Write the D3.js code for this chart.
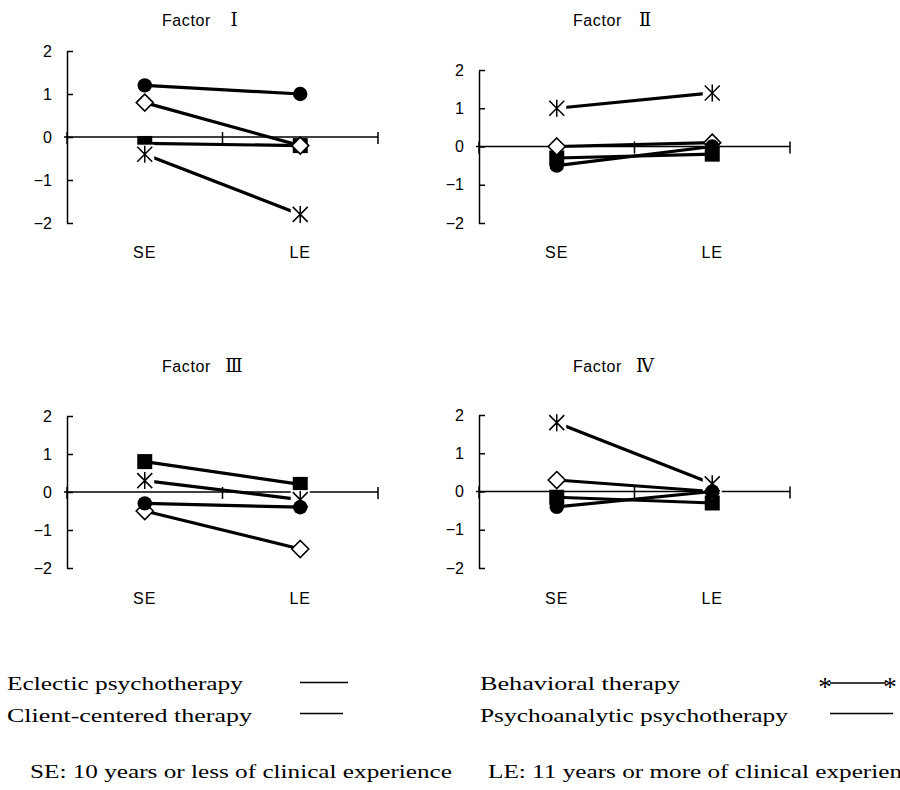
<!DOCTYPE html>
<html>
<head>
<meta charset="utf-8">
<script src="https://cdn.jsdelivr.net/npm/d3@7"></script>
<style>
  body { margin: 0; background: #fff; }
  svg { display: block; }
</style>
</head>
<body>
<svg id="chart" width="900" height="790"></svg>
<script>
// Experience groups on the x axis
const stages = ["SE", "LE"];
// Value axis ticks
const yTicks = [2, 1, 0, -1, -2];
// Factor numerals (one small chart per factor)
const factorNumerals = ["Ⅰ", "Ⅱ", "Ⅲ", "Ⅳ"];

// Mean factor scores per school, one [SE, LE] pair per factor
const eclectic       = [[0.8, -0.2], [0.0, 0.1], [-0.5, -1.5], [0.3, 0.0]];
const clientCentered = [[-0.15, -0.2], [-0.3, -0.2], [0.8, 0.2], [-0.15, -0.3]];
const behavioral     = [[-0.4, -1.8], [1.0, 1.4], [0.3, -0.2], [1.8, 0.2]];
const psychoanalytic = [[1.2, 1.0], [-0.5, 0.0], [-0.3, -0.4], [-0.4, 0.0]];

// Legend / note text
const legendLeft  = ["Eclectic psychotherapy", "Client-centered therapy"];
const legendRight = ["Behavioral therapy", "Psychoanalytic psychotherapy"];
const notes = ["SE: 10 years or less of clinical experience",
               "LE: 11 years or more of clinical experience"];

// Drawing order of the series (later ones sit on top)
const seriesList = [
  { values: clientCentered, marker: "square" },
  { values: eclectic,       marker: "diamond" },
  { values: behavioral,     marker: "asterisk" },
  { values: psychoanalytic, marker: "circle" }
];

// Panel frames
const panels = [
  { x0: 67,  x1: 378, yTop: 51,  yBot: 223, titleX: 200, titleY: 26,  catY: 258 },
  { x0: 479, x1: 790, yTop: 70,  yBot: 223, titleX: 611, titleY: 26,  catY: 258 },
  { x0: 67,  x1: 378, yTop: 416, yBot: 568, titleX: 200, titleY: 372, catY: 604 },
  { x0: 479, x1: 790, yTop: 415, yBot: 568, titleX: 611, titleY: 372, catY: 604 }
];

const SANS = "'Liberation Sans', Arial, sans-serif";
const SERIF = "'Liberation Serif', 'Times New Roman', serif";
const NUMERAL = "'DejaVu Serif', serif";

const svg = d3.select("#chart");

function drawMarker(g, type, cx, cy) {
  if (type === "square") {
    g.append("rect").attr("x", cx - 7.5).attr("y", cy - 7.5)
      .attr("width", 15).attr("height", 15).attr("fill", "#000");
  } else if (type === "circle") {
    g.append("circle").attr("cx", cx).attr("cy", cy).attr("r", 7.2).attr("fill", "#000");
  } else if (type === "diamond") {
    const h = 8.5;
    g.append("path")
      .attr("d", `M${cx},${cy - h}L${cx + h},${cy}L${cx},${cy + h}L${cx - h},${cy}Z`)
      .attr("fill", "#fff").attr("stroke", "#000").attr("stroke-width", 1.6);
  } else if (type === "asterisk") {
    const h = 9.5;
    g.append("rect").attr("x", cx - h).attr("y", cy - h)
      .attr("width", 2 * h).attr("height", 2 * h).attr("fill", "#fff");
    const a = 8.5, b = 7.5;
    g.append("path")
      .attr("d", `M${cx},${cy - a}L${cx},${cy + a}M${cx - b},${cy - b}L${cx + b},${cy + b}M${cx - b},${cy + b}L${cx + b},${cy - b}`)
      .attr("fill", "none").attr("stroke", "#000").attr("stroke-width", 1.5);
  }
}

panels.forEach((p, i) => {
  const g = svg.append("g").attr("class", "panel");
  const x = d3.scaleBand().domain(stages).range([p.x0, p.x1]);
  const y = d3.scaleLinear().domain([-2, 2]).range([p.yBot, p.yTop]);
  const cx = d => x(d) + x.bandwidth() / 2;

  // Title
  const title = g.append("text")
    .attr("x", p.titleX - 38).attr("y", p.titleY)
    .style("font-family", SANS).style("font-size", "16px").attr("fill", "#000");
  title.append("tspan").attr("letter-spacing", 0.6).text("Factor ");
  title.append("tspan").attr("x", p.titleX + 34).attr("text-anchor", "middle")
    .style("font-family", NUMERAL).style("font-size", "18px").text(factorNumerals[i]);

  // Value axis (ticks point into the plot)
  const yAxis = d3.axisLeft(y).tickValues(yTicks).tickFormat(d3.format("d"))
    .tickSizeInner(-6).tickSizeOuter(0).tickPadding(15);
  const ya = g.append("g").attr("transform", `translate(${p.x0},0)`).call(yAxis);
  ya.attr("font-size", null).attr("font-family", null);
  ya.select(".domain").attr("stroke", "#000").attr("stroke-width", 1.5);
  ya.selectAll(".tick line").attr("stroke", "#000").attr("stroke-width", 1.5);
  ya.selectAll(".tick text").style("font-family", SANS).style("font-size", "16px").attr("fill", "#000");

  // Category axis crossing at zero, with cross ticks on band boundaries
  const y0 = y(0);
  g.append("line").attr("x1", p.x0 - 3).attr("x2", p.x1)
    .attr("y1", y0).attr("y2", y0).attr("stroke", "#000").attr("stroke-width", 1.5);
  const edges = stages.map(s => x(s)).concat([x.range()[1]]);
  g.selectAll("line.xtick").data(edges).join("line").attr("class", "xtick")
    .attr("x1", d => d).attr("x2", d => d)
    .attr("y1", y0 - 5).attr("y2", y0 + 7)
    .attr("stroke", "#000").attr("stroke-width", 1.5);

  // Category labels
  g.selectAll("text.cat").data(stages).join("text").attr("class", "cat")
    .attr("x", cx).attr("y", p.catY).attr("text-anchor", "middle")
    .style("font-family", SANS).style("font-size", "16px").attr("letter-spacing", 1)
    .text(d => d);

  // Series
  const line = d3.line().x((d, k) => cx(stages[k])).y(d => y(d));
  seriesList.forEach(s => {
    const vals = s.values[i];
    g.append("path").attr("d", line(vals))
      .attr("fill", "none").attr("stroke", "#000").attr("stroke-width", 3.2);
    vals.forEach((v, k) => drawMarker(g, s.marker, cx(stages[k]), y(v)));
  });
});

// Legend and notes
const lg = svg.append("g").style("font-family", SERIF).style("font-size", "18px").attr("fill", "#000");
function fit(sel, w) {
  const n = sel.node().getComputedTextLength();
  sel.attr("textLength", w).attr("lengthAdjust", "spacingAndGlyphs");
  return n;
}
fit(lg.append("text").attr("x", 7).attr("y", 690).text(legendLeft[0]), 236);
fit(lg.append("text").attr("x", 7).attr("y", 722).text(legendLeft[1]), 245);
fit(lg.append("text").attr("x", 480).attr("y", 690).text(legendRight[0]), 200);
fit(lg.append("text").attr("x", 480).attr("y", 722).text(legendRight[1]), 308);

const legendLines = [
  { x1: 300, x2: 348, y: 682.5 },
  { x1: 300, x2: 343, y: 713.5 },
  { x1: 830, x2: 886, y: 683 },
  { x1: 830, x2: 893, y: 713.5 }
];
lg.selectAll("line").data(legendLines).join("line")
  .attr("x1", d => d.x1).attr("x2", d => d.x2).attr("y1", d => d.y).attr("y2", d => d.y)
  .attr("stroke", "#000").attr("stroke-width", 1.3);
lg.selectAll("text.star").data([825, 890]).join("text").attr("class", "star")
  .attr("x", d => d).attr("y", 696).attr("text-anchor", "middle")
  .style("font-size", "27px").text("*");

const seNote = lg.append("text").attr("x", 30).attr("y", 778).text(notes[0]);
const seNat = fit(seNote, 422);
const leNote = lg.append("text").attr("x", 488).attr("y", 778).text(notes[1]);
const leNat = leNote.node().getComputedTextLength();
leNote.attr("textLength", leNat * 422 / seNat).attr("lengthAdjust", "spacingAndGlyphs");
</script>
</body>
</html>
